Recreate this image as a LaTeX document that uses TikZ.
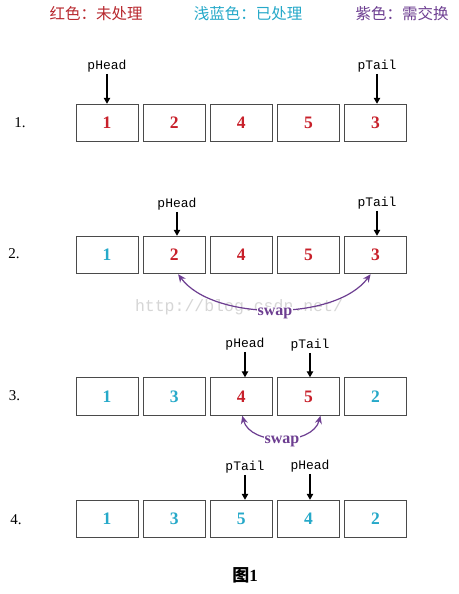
\documentclass[tikz,border=0pt]{standalone}
\usepackage{fontspec}
\setmainfont{Liberation Serif}
\setmonofont{Liberation Mono}
\newfontfamily\cjk{Noto Sans CJK SC}
\usetikzlibrary{arrows.meta}
\definecolor{numred}{HTML}{C8202A}
\definecolor{numblue}{HTML}{26A9C9}
\definecolor{legred}{HTML}{B8282E}
\definecolor{swappurple}{HTML}{6D3E91}
\definecolor{boxgray}{HTML}{4A4A4A}
\definecolor{wmgray}{HTML}{D6D6D6}
\begin{document}
\begin{tikzpicture}[x=1pt,y=-1pt,
  cell/.style={draw=boxgray, line width=1pt, minimum width=62pt, minimum height=37.5pt, inner sep=0pt, font=\fontsize{17.5}{18}\selectfont\bfseries},
  ptr/.style={font=\fontsize{13}{14}\selectfont\ttfamily, inner sep=1.5pt},
  ptrarrow/.style={-{Triangle[length=6pt,width=6.5pt]}, line width=1.2pt},
  swaparrow/.style={{Stealth[length=8pt,width=7pt]}-{Stealth[length=8pt,width=7pt]}, line width=1.2pt, draw=swappurple},
  swaplabel/.style={fill=white, inner sep=0.5pt, text=swappurple, font=\fontsize{16}{17}\selectfont\bfseries},
  rowlabel/.style={font=\fontsize{15}{16}\selectfont},
  legend/.style={font=\fontsize{15.5}{17}\selectfont\cjk}
]
\useasboundingbox (0,0) rectangle (458,594);
\fill[white] (0,0) rectangle (458,594);

% legend
\node[legend, text=legred] (lg1) at (96,14) {红色：未处理};
\node[legend, text=numblue] (lg2) at (248,14) {浅蓝色：已处理};
\node[legend, text=swappurple] (lg3) at (402,14) {紫色：需交换};

% row 1
\foreach \v/\c [count=\i] in {1/numred,2/numred,4/numred,5/numred,3/numred}
  \node[cell, text=\c] (b1\i) at ({107+67.15*(\i-1)},123) {\v};
\node[rowlabel] (r1) at (20,123) {1.};
\node[ptr] (ph1) at (107,66) {pHead};
\node[ptr] (pt1) at (377,66) {pTail};
\draw[ptrarrow] (ph1.south) -- (ph1.south |- b11.north);
\draw[ptrarrow] (pt1.south) -- (pt1.south |- b15.north);

% row 2
\foreach \v/\c [count=\i] in {1/numblue,2/numred,4/numred,5/numred,3/numred}
  \node[cell, text=\c] (b2\i) at ({107+67.15*(\i-1)},255) {\v};
\node[rowlabel] (r2) at (14,254) {2.};
\node[ptr] (ph2) at (177,204) {pHead};
\node[ptr] (pt2) at (377,203) {pTail};
\draw[ptrarrow] (ph2.south) -- (ph2.south |- b22.north);
\draw[ptrarrow] (pt2.south) -- (pt2.south |- b25.north);
\node[font=\fontsize{16.5}{17}\selectfont\ttfamily, text=wmgray] (wm) at (239,307) {http://blog.csdn.net/};
\draw[swaparrow] ([xshift=4pt]b22.south) .. controls +(35,47) and +(-35,47) .. ([xshift=-5pt]b25.south);
\node[swaplabel] (sw2) at (275,313) {swap};

% row 3
\foreach \v/\c [count=\i] in {1/numblue,3/numblue,4/numred,5/numred,2/numblue}
  \node[cell, text=\c] (b3\i) at ({107+67.15*(\i-1)},396.5) {\v};
\node[rowlabel] (r3) at (14.5,396) {3.};
\node[ptr] (ph3) at (245,344) {pHead};
\node[ptr] (pt3) at (310,345) {pTail};
\draw[ptrarrow] (ph3.south) -- (ph3.south |- b33.north);
\draw[ptrarrow] (pt3.south) -- (pt3.south |- b34.north);
\draw[swaparrow] ([xshift=1pt]b33.south) .. controls +(8,30) and +(-8,30) .. ([xshift=12pt]b34.south);
\node[swaplabel] (sw3) at (282,441) {swap};

% row 4
\foreach \v/\c [count=\i] in {1/numblue,3/numblue,5/numblue,4/numblue,2/numblue}
  \node[cell, text=\c] (b4\i) at ({107+67.15*(\i-1)},519) {\v};
\node[rowlabel] (r4) at (16,520) {4.};
\node[ptr] (pt4) at (245,467) {pTail};
\node[ptr] (ph4) at (310,466) {pHead};
\draw[ptrarrow] (pt4.south) -- (pt4.south |- b43.north);
\draw[ptrarrow] (ph4.south) -- (ph4.south |- b44.north);

% caption
\node[font=\fontsize{17}{18}\selectfont\bfseries] (cap) at (245,575) {{\cjk 图}1};
\end{tikzpicture}
\end{document}
